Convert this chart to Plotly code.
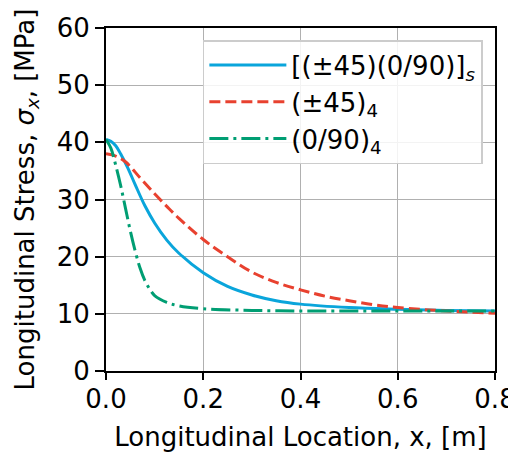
import plotly.graph_objects as go

# Data
x_quasi = [0, 0.01, 0.02, 0.03, 0.045, 0.06, 0.08, 0.1, 0.125, 0.15, 0.2, 0.25, 0.3, 0.35, 0.4, 0.5, 0.6, 0.7, 0.8]
y_quasi = [40.5, 40.2, 39.4, 38.0, 35.5, 32.6, 28.9, 25.9, 22.9, 20.6, 17.2, 14.8, 13.3, 12.3, 11.7, 11.1, 10.8, 10.6, 10.5]

x_pm45 = [0, 0.02, 0.04, 0.07, 0.1, 0.125, 0.15, 0.2, 0.25, 0.3, 0.35, 0.4, 0.45, 0.5, 0.55, 0.6, 0.7, 0.8]
y_pm45 = [38.0, 37.6, 36.6, 33.8, 31.0, 28.8, 26.7, 23.0, 20.0, 17.3, 15.5, 14.2, 13.1, 12.3, 11.6, 11.1, 10.5, 10.1]

x_090 = [0, 0.01, 0.02, 0.03, 0.04, 0.05, 0.06, 0.07, 0.08, 0.09, 0.1, 0.125, 0.15, 0.2, 0.3, 0.4, 0.5, 0.6, 0.7, 0.8]
y_090 = [40.5, 39.0, 36.0, 32.5, 28.5, 24.5, 21.0, 18.0, 15.8, 14.3, 13.2, 12.0, 11.4, 10.9, 10.6, 10.5, 10.5, 10.5, 10.5, 10.5]

names = ["[(±45)(0/90)]<sub><i>s</i></sub>", "(±45)<sub>4</sub>", "(0/90)<sub>4</sub>"]
x_ticks = [0.0, 0.2, 0.4, 0.6, 0.8]
y_ticks = [0, 10, 20, 30, 40, 50, 60]

FONT = "DejaVu Sans"
FS = 26

fig = go.Figure()
fig.add_trace(go.Scatter(x=x_quasi, y=y_quasi, mode="lines", name=names[0],
                         line=dict(color="#0AA5DB", width=3, shape="spline")))
fig.add_trace(go.Scatter(x=x_pm45, y=y_pm45, mode="lines", name=names[1],
                         line=dict(color="#E8412F", width=3, dash="11px,5px", shape="spline")))
fig.add_trace(go.Scatter(x=x_090, y=y_090, mode="lines", name=names[2],
                         line=dict(color="#009E73", width=3, dash="19px,5px,3px,5px", shape="spline")))

axis_common = dict(
    showline=True, linecolor="black", linewidth=1.8, mirror=True,
    ticks="outside", tickwidth=1.5, tickcolor="black",
    showgrid=True, gridcolor="#b0b0b0", gridwidth=1.4,
    zeroline=False, automargin=False,
    tickfont=dict(family=FONT, size=FS, color="black"),
)

fig.update_xaxes(range=[0, 0.8], tickvals=x_ticks, tickformat=".1f", ticklen=7,
                 ticklabelstandoff=-3,
                 title=dict(text="Longitudinal Location, x, [m]",
                            font=dict(family=FONT, size=FS, color="black")),
                 **axis_common)
fig.update_yaxes(range=[0, 60], tickvals=y_ticks, ticksuffix="\u00a0", ticklen=9,
                 title=dict(text="Longitudinal Stress, <i>σ</i><sub><i>x</i></sub>, [MPa]",
                            font=dict(family=FONT, size=FS, color="black")),
                 **axis_common)

# The page body adds an 8px offset, so the figure is sized to the remaining area
fig.update_layout(
    width=508, height=446,
    margin=dict(l=98, r=21, t=20, b=83, autoexpand=False),
    paper_bgcolor="white", plot_bgcolor="white",
    font=dict(family=FONT, size=FS, color="black"),
    showlegend=True,
    legend=dict(x=0.249, y=0.965, xanchor="left", yanchor="top",
                bgcolor="rgba(255,255,255,0.85)", bordercolor="#cccccc", borderwidth=1.5,
                font=dict(family=FONT, size=FS, color="black"),
                itemwidth=77, tracegroupgap=0),
)

fig.write_html("out.html")
